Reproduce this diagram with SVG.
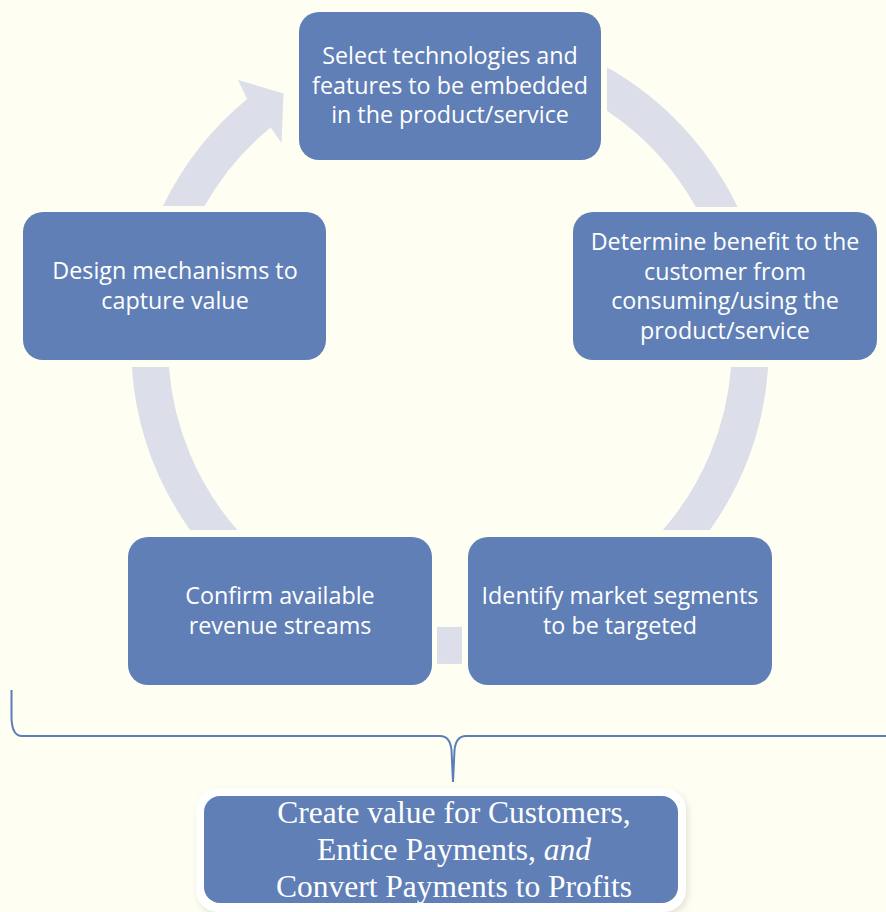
<svg xmlns="http://www.w3.org/2000/svg" width="886" height="912" viewBox="0 0 886 912">
<defs>
<style>
.bg{fill:#FEFEF3}
.ring{fill:#DCDFEA}
.box{fill:#5F7FB6}
.t{font-family:"Open Sans","Noto Sans","DejaVu Sans",sans-serif;font-size:23.3px;fill:#FFFFFF;text-anchor:middle}
.s{font-family:"Liberation Serif","Times New Roman",serif;font-size:31.5px;fill:#FFFFFF;text-anchor:middle}
.i{font-family:"Liberation Serif","DejaVu Serif",serif;font-style:italic}
.brace{fill:none;stroke:#5B7DBA;stroke-width:2}
</style>
<filter id="glow" x="-10%" y="-20%" width="120%" height="140%">
<feGaussianBlur in="SourceAlpha" stdDeviation="3"/>
<feOffset dx="2" dy="3" result="b"/>
<feFlood flood-color="#C8C8B8" flood-opacity="0.5"/>
<feComposite in2="b" operator="in"/>
<feMerge><feMergeNode/><feMergeNode in="SourceGraphic"/></feMerge>
</filter>
</defs>
<rect class="bg" x="0" y="0" width="886" height="912"/>
<g id="connectors">
<path class="ring" d="M607,67.3 A319,319 0 0 1 737.6,207 L695.9,207 A282,282 0 0 0 607,110.7 Z"/>
<path class="ring" d="M768.2,367 A319,319 0 0 1 709.9,530 L662.8,530 A282,282 0 0 0 731.1,367 Z"/>
<path class="ring" d="M462,663.8 A319,319 0 0 1 437,663.8 L437,626.7 A282,282 0 0 0 462,626.7 Z"/>
<path class="ring" d="M190.1,530 A319,319 0 0 1 131.8,367 L168.9,367 A282,282 0 0 0 237.2,530 Z"/>
<path class="ring" d="M162.9,206 A319,319 0 0 1 247.1,98.9 L238,80 L283.5,93.5 L281.5,143 L270.6,127.4 A282,282 0 0 0 204.6,206 Z"/>
<path class="brace" d="M11.5,690 L11.5,718 Q12,736 22,736 L440,736 Q450,736 451.5,750 L453,782 L454.5,750 Q456,736 466,736 L886,736"/>
</g>
<g id="node-top">
<rect class="box" x="299" y="12" width="302" height="148" rx="20"/>
<text class="t" x="450" y="64">Select technologies and</text>
<text class="t" x="450" y="93.5">features to be embedded</text>
<text class="t" x="450" y="123">in the product/service</text>
</g>
<g id="node-right">
<rect class="box" x="573" y="212" width="304" height="148" rx="20"/>
<text class="t" x="725" y="250">Determine benefit to the</text>
<text class="t" x="725" y="279.5">customer from</text>
<text class="t" x="725" y="309">consuming/using the</text>
<text class="t" x="725" y="338.5">product/service</text>
</g>
<g id="node-bottom-right">
<rect class="box" x="468" y="537" width="304" height="148" rx="20"/>
<text class="t" x="620" y="604">Identify market segments</text>
<text class="t" x="620" y="633.5">to be targeted</text>
</g>
<g id="node-bottom-left">
<rect class="box" x="128" y="537" width="304" height="148" rx="20"/>
<text class="t" x="280" y="604">Confirm available</text>
<text class="t" x="280" y="633.5">revenue streams</text>
</g>
<g id="node-left">
<rect class="box" x="23" y="212" width="303" height="148" rx="20"/>
<text class="t" x="175" y="279">Design mechanisms to</text>
<text class="t" x="175" y="308.5">capture value</text>
</g>
<g id="node-summary">
<rect x="196" y="788" width="490" height="124" rx="22" fill="#FFFFFF" filter="url(#glow)"/>
<rect class="box" x="204" y="796" width="474" height="107" rx="16"/>
<text class="s" x="454" y="823">Create value for Customers,</text>
<text class="s" x="454" y="860">Entice Payments, <tspan class="i">and</tspan></text>
<text class="s" x="454" y="897">Convert Payments to Profits</text>
</g>
</svg>
